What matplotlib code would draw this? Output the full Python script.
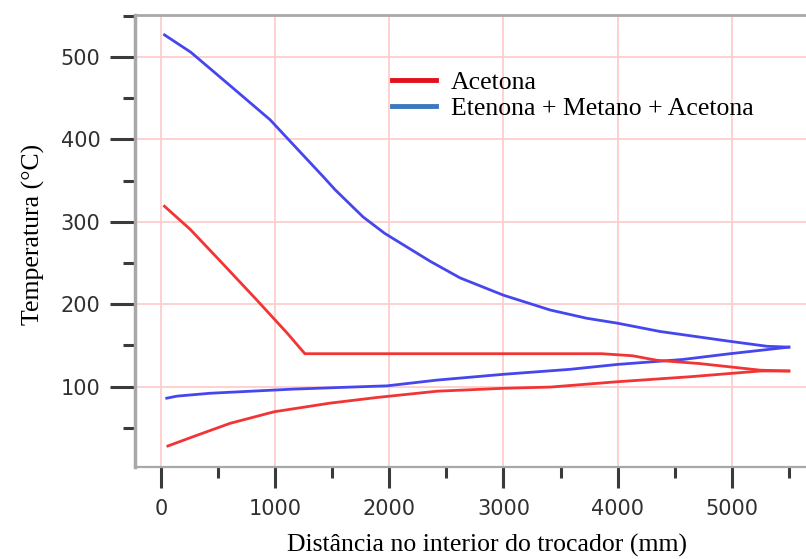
import numpy as np
import matplotlib
matplotlib.use("Agg")
import matplotlib.pyplot as plt
from matplotlib.lines import Line2D
from matplotlib.ticker import MultipleLocator

# hot stream: etenona + metano + acetona (blue, top)
x_hot_mix = [30, 260, 600, 955, 1150, 1420, 1525, 1770, 1960, 2360, 2620, 3000,
             3410, 3730, 4000, 4370, 4985, 5310, 5500]
t_hot_mix = [527, 506, 466, 424, 395, 355, 339, 306, 286, 252, 232, 211,
             193, 183, 177, 167, 155, 149, 148]

# hot stream: acetona (red, top)
x_hot_ac = [30, 255, 515, 840, 1105, 1260, 3860, 4130, 4345, 4720, 4985, 5250, 5500]
t_hot_ac = [319, 291, 253, 205, 165, 140, 140, 137.5, 132, 128, 124, 120, 119]

# cold side, blue
x_cold_mix = [50, 140, 430, 720, 1155, 1770, 1980, 2420, 3000, 3580, 4000,
              4570, 4985, 5310, 5500]
t_cold_mix = [86, 88.5, 92, 94, 97, 100, 101, 108, 115, 121, 127,
              133, 140, 145, 148]

# cold side, red
x_cold_ac = [60, 315, 605, 990, 1480, 1900, 2420, 3000, 3410, 4000, 4630,
             4985, 5250, 5500]
t_cold_ac = [28, 41, 55.5, 69.5, 80, 87, 94.5, 98, 99.5, 106, 112,
             116, 119, 119]

labels = ['Acetona', 'Etenona + Metano + Acetona']

blue = '#4646ee'
red = '#f23434'

fig = plt.figure(figsize=(8.06, 5.59), dpi=100)
ax = fig.add_axes([0.1675, 0.1646, 0.8325, 0.8084])

ax.plot(x_hot_mix, t_hot_mix, color=blue, lw=2.0)
ax.plot(x_cold_mix, t_cold_mix, color=blue, lw=2.0)
ax.plot(x_hot_ac, t_hot_ac, color=red, lw=2.0)
ax.plot(x_cold_ac, t_cold_ac, color=red, lw=2.0)

ax.set_xlim(-228, 5650)
ax.set_ylim(2.5, 551)

ax.xaxis.set_major_locator(MultipleLocator(1000))
ax.xaxis.set_minor_locator(MultipleLocator(500))
ax.yaxis.set_major_locator(MultipleLocator(100))
ax.yaxis.set_minor_locator(MultipleLocator(50))

ax.grid(True, which='major', color='#ffcaca', lw=1.2)
ax.set_axisbelow(True)

for s in ['left', 'top', 'bottom']:
    ax.spines[s].set_color('#a8a8a8')
ax.spines['left'].set_linewidth(2.5)
ax.spines['top'].set_linewidth(2.0)
ax.spines['bottom'].set_linewidth(1.6)
ax.spines['right'].set_visible(False)

ax.tick_params(axis='y', which='major', length=18, width=2.2, color='#3a3a3a', pad=7)
ax.tick_params(axis='y', which='minor', length=9, width=2.2, color='#3a3a3a')
ax.tick_params(axis='x', which='major', length=15, width=2.2, color='#3a3a3a', pad=8)
ax.tick_params(axis='x', which='minor', length=8, width=2.2, color='#3a3a3a')
ax.tick_params(which='both', direction='out', top=False, right=False,
               labelsize=15, labelcolor='#303030')

ax.set_xlabel('Distância no interior do trocador (mm)', family='Liberation Serif',
              fontsize=18.5)
ax.set_ylabel('Temperatura (°C)', family='Liberation Serif', fontsize=18.5)
ax.xaxis.set_label_coords(0.525, -0.148)
ax.yaxis.set_label_coords(-0.134, 0.515)

handles = [Line2D([], [], color='#e4101e', lw=3.5),
           Line2D([], [], color='#3c78be', lw=3.5)]
ax.legend(handles, labels, loc='upper left', bbox_to_anchor=(392 / 806, 1 - 71 / 559),
          bbox_transform=fig.transFigure, frameon=False, borderpad=0, borderaxespad=0,
          prop={'family': 'Liberation Serif', 'size': 18.5}, handlelength=1.7,
          handletextpad=0.58, labelspacing=0.1)

fig.savefig('out.png', dpi=100)
